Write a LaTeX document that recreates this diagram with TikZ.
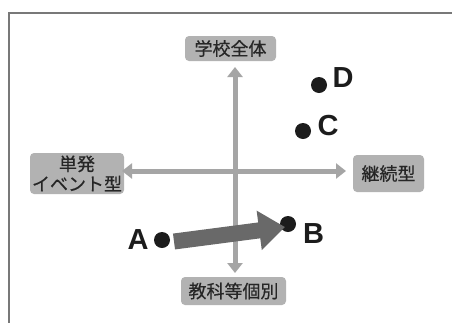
\documentclass[tikz,border=0pt]{standalone}
\usepackage{fontspec}
\setsansfont{Liberation Sans}
\newfontfamily\jp[FakeBold=0.5]{Noto Sans CJK JP}
\usetikzlibrary{arrows.meta}
\definecolor{boxfill}{RGB}{178,178,178}
\definecolor{axiscol}{RGB}{165,165,165}
\definecolor{bigarrow}{RGB}{105,105,105}
\definecolor{dotcol}{RGB}{28,28,28}
\definecolor{framecol}{RGB}{120,120,120}
\begin{document}
\begin{tikzpicture}[x=1pt,y=-1pt,
  lbl/.style={draw=none, fill=boxfill, rounded corners=4pt, inner sep=0pt, font=\jp\fontsize{18}{20}\selectfont, text=black!85, align=center},
  axis/.style={draw=axiscol, line width=5pt, {Triangle[length=10pt,width=15pt]}-{Triangle[length=10pt,width=15pt]}},
  dot/.style={circle, fill=dotcol, minimum size=16pt, inner sep=0pt},
  letter/.style={font=\sffamily\bfseries\fontsize{29}{29}\selectfont, text=dotcol, inner sep=0pt}
]
\useasboundingbox (0,0) rectangle (452,322);
\fill[white] (0,0) rectangle (452,322);
\draw[framecol, line width=1.5pt] (9,330) -- (9,13) -- (460,13);

\node[lbl, minimum width=91pt, minimum height=25pt] (top) at (230.5,48.5) {学校全体};
\node[lbl, minimum width=94pt, minimum height=41pt] (left) at (77,173.5) {単発\\イベント型};
\node[lbl, minimum width=71pt, minimum height=37pt] (right) at (388.5,173.5) {継続型};
\node[lbl, minimum width=105pt, minimum height=28pt] (bottom) at (233.5,291) {教科等個別};

\coordinate (ytop) at (235,67);
\coordinate (ybot) at (235,273);
\coordinate (xleft) at (122,171);
\coordinate (xright) at (346,171);
\draw[axis] (ybot) -- (ytop);
\draw[axis] (xleft) -- (xright);

\node[dot] (dA) at (162,240) {};
\node[dot] (dB) at (288,224) {};
\node[dot] (dC) at (303,131) {};
\node[dot] (dD) at (319,85) {};

\node[letter] (lA) at (138,240) {A};
\node[letter] (lB) at (313.5,234) {B};
\node[letter] (lC) at (328,126) {C};
\node[letter] (lD) at (343,77.5) {D};

\coordinate (arrS) at (174,241.5);
\coordinate (arrE) at (285,227);
\draw[bigarrow, line width=16pt, -{Triangle[length=26pt,width=38pt]}] (arrS) -- (arrE);
\end{tikzpicture}
\end{document}
